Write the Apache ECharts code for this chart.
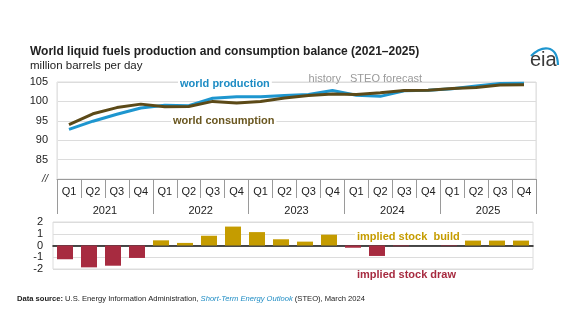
<!DOCTYPE html>
<html>
<head>
<meta charset="utf-8">
<script src="https://cdn.jsdelivr.net/npm/echarts@6/dist/echarts.min.js"></script>
<style>
html,body{margin:0;padding:0;background:#fff;}
#c{width:575px;height:335px;}
</style>
</head>
<body>
<div id="c"></div>
<script>
var years = ['2021', '2022', '2023', '2024', '2025'];
var quarters = ['Q1', 'Q2', 'Q3', 'Q4'];
var production = [92.8, 94.9, 96.7, 98.3, 99.0, 98.9, 100.8, 101.2, 101.2, 101.5, 101.8, 102.8, 101.6, 101.3, 102.75, 102.9, 103.25, 104.0, 104.6, 104.7];
var consumption = [94.0, 96.8, 98.4, 99.3, 98.6, 98.7, 100.0, 99.6, 100.0, 100.9, 101.5, 101.9, 101.8, 102.2, 102.8, 102.9, 103.3, 103.6, 104.2, 104.3];
var stockChange = [-1.17, -1.86, -1.72, -1.06, 0.44, 0.22, 0.83, 1.61, 1.14, 0.53, 0.33, 0.92, -0.19, -0.89, -0.06, 0.0, -0.05, 0.42, 0.42, 0.42];
var topTicks = [80, 85, 90, 95, 100, 105];
var bottomTicks = [-2, -1, 0, 1, 2];

var categories = [];
years.forEach(function (y) { quarters.forEach(function (q) { categories.push(y + ' ' + q); }); });

var FONT = 'Liberation Sans, Arial, sans-serif';
var BLUE = '#1E96CF';
var BROWN = '#5C4A18';
var GOLD = '#C59C00';
var RED = '#A72B40';

function txt(opts, text, font, fill, bg) {
  opts.type = 'text';
  opts.z = 100;
  opts.style = {text: text, font: font, fill: fill, stroke: null, lineWidth: 0};
  if (bg) { opts.style.backgroundColor = '#fff'; opts.style.padding = [0, 2, 0, 2]; }
  return opts;
}

var chart = echarts.init(document.getElementById('c'), null, {renderer: 'canvas'});
chart.setOption({
  backgroundColor: '#fff',
  animation: false,
  textStyle: {fontFamily: FONT},
  grid: [
    {left: 57, right: 39, top: 82, height: 97, show: true, borderColor: '#dcdcdc', borderWidth: 1},
    {left: 53, right: 42, top: 222, height: 47, show: true, borderColor: '#dcdcdc', borderWidth: 1}
  ],
  xAxis: [
    {
      gridIndex: 0, type: 'category', data: categories, boundaryGap: true, position: 'bottom',
      axisLine: {show: true, lineStyle: {color: '#9a9a9a', width: 1}},
      axisTick: {show: true, interval: 0, length: 19, lineStyle: {color: '#9a9a9a'}},
      axisLabel: {interval: 0, margin: 7, fontSize: 11, color: '#222', fontFamily: FONT,
        formatter: function (v) { return v.split(' ')[1]; }},
      splitLine: {show: true, interval: function (i) { return i === 12; }, lineStyle: {color: '#e4e4e4', width: 1}}
    },
    {
      gridIndex: 0, type: 'category', data: years, boundaryGap: true, position: 'bottom',
      axisLine: {show: false},
      axisTick: {show: true, interval: 0, length: 35, lineStyle: {color: '#9a9a9a'}},
      axisLabel: {interval: 0, margin: 26, fontSize: 11, color: '#222', fontFamily: FONT},
      splitLine: {show: false}
    },
    {
      gridIndex: 1, type: 'category', data: categories, boundaryGap: true,
      axisLine: {show: true, onZero: true, lineStyle: {color: '#111', width: 1.5}},
      axisTick: {show: false}, axisLabel: {show: false}, splitLine: {show: false}
    }
  ],
  yAxis: [
    {
      gridIndex: 0, type: 'value', min: topTicks[0], max: topTicks[topTicks.length - 1], interval: 5,
      axisLine: {show: false}, axisTick: {show: false},
      axisLabel: {margin: 9, fontSize: 11, color: '#222', fontFamily: FONT,
        formatter: function (v) { return v === topTicks[0] ? '{s|//}' : String(v); },
        rich: {s: {fontSize: 11, fontStyle: 'italic', color: '#333', fontFamily: FONT}}},
      splitLine: {show: true, lineStyle: {color: '#dcdcdc', width: 1.2}}
    },
    {
      gridIndex: 1, type: 'value', min: bottomTicks[0], max: bottomTicks[bottomTicks.length - 1], interval: 1,
      axisLine: {show: false}, axisTick: {show: false},
      axisLabel: {margin: 10, fontSize: 11, color: '#222', fontFamily: FONT},
      splitLine: {show: true, lineStyle: {color: '#dcdcdc', width: 1.2}}
    }
  ],
  series: [
    {
      name: 'world production', type: 'line', xAxisIndex: 0, yAxisIndex: 0, data: production,
      symbol: 'none', lineStyle: {color: BLUE, width: 3}, itemStyle: {color: BLUE}, z: 3
    },
    {
      name: 'world consumption', type: 'line', xAxisIndex: 0, yAxisIndex: 0, data: consumption,
      symbol: 'none', lineStyle: {color: BROWN, width: 3}, itemStyle: {color: BROWN}, z: 4
    },
    {
      name: 'implied stock change', type: 'bar', xAxisIndex: 2, yAxisIndex: 1, data: stockChange,
      barWidth: 16,
      itemStyle: {color: function (p) { return p.value >= 0 ? GOLD : RED; }}
    }
  ],
  graphic: [
    txt({left: 30, top: 46}, 'World liquid fuels production and consumption balance (2021–2025)', 'bold 12px ' + FONT, '#222'),
    txt({left: 30, top: 60}, 'million barrels per day', '11.5px ' + FONT, '#222'),
    txt({left: 178, top: 78}, 'world production', 'bold 11px ' + FONT, '#1E8CC4', true),
    txt({left: 171, top: 115}, 'world consumption', 'bold 11px ' + FONT, '#6A5720', true),
    txt({right: 575 - 341, top: 73}, 'history', '11px ' + FONT, '#9a9a9a'),
    txt({left: 350, top: 73}, 'STEO forecast', '11px ' + FONT, '#9a9a9a'),
    txt({left: 355, top: 231}, 'implied stock  build', 'bold 11px ' + FONT, GOLD, true),
    txt({left: 357, top: 269}, 'implied stock draw', 'bold 11px ' + FONT, RED),
    txt({left: 530, top: 50}, 'eia', '20px ' + FONT, '#3a3a3a'),
    {type: 'bezierCurve', shape: {x1: 531, y1: 56, cpx1: 541, cpy1: 46, cpx2: 557, cpy2: 43, x2: 558, y2: 65},
      style: {stroke: '#1E96CF', lineWidth: 2.2, fill: null}},
    {type: 'text', left: 17, top: 295, style: {
      text: '{b|Data source:} U.S. Energy Information Administration, {i|Short-Term Energy Outlook} (STEO), March 2024',
      font: '7.6px ' + FONT, fill: '#222',
      rich: {
        b: {fontWeight: 'bold', fontSize: 7.6, fontFamily: FONT, fill: '#222'},
        i: {fontStyle: 'italic', fontSize: 7.6, fontFamily: FONT, fill: '#1E8CC4'}
      }}}
  ]
});
</script>
</body>
</html>
